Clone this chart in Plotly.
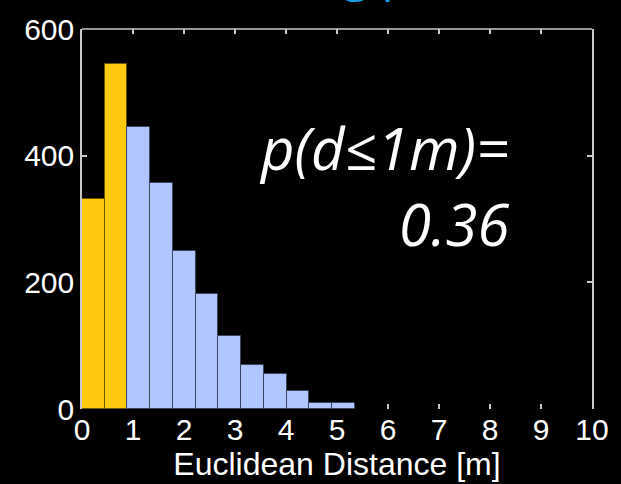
import plotly.graph_objects as go

# Histogram data
bin_left = [0.0, 0.446, 0.892, 1.338, 1.784, 2.230, 2.676, 3.122, 3.568, 4.014, 4.460, 4.906]
bin_width = 0.446
counts = [331, 545, 445, 357, 249, 182, 115, 69, 56, 28, 9, 9]
highlight = [True, True, False, False, False, False, False, False, False, False, False, False]

x_ticks = [0, 1, 2, 3, 4, 5, 6, 7, 8, 9, 10]
y_ticks = [0, 200, 400, 600]

YELLOW = "#FFC90E"
BLUE = "#B1C5FE"
FRAME = "#c8c8c8"

colors = [YELLOW if h else BLUE for h in highlight]
edges = ["#6b5400" if h else "#39435c" for h in highlight]

fig = go.Figure()
fig.add_trace(go.Bar(
    x=bin_left, y=counts, width=[bin_width] * len(counts), offset=0,
    marker=dict(color=colors, line=dict(color=edges, width=1)),
    showlegend=False, hoverinfo="skip",
))

tickfont = dict(family="Liberation Sans, Arial", size=30, color="white")

fig.update_layout(
    width=621, height=484,
    margin=dict(l=82, r=22, t=24, b=75),
    paper_bgcolor="black", plot_bgcolor="black",
    bargap=0,
    xaxis=dict(range=[0, 10], tickvals=x_ticks, ticktext=[str(v) for v in x_ticks],
               showline=False, mirror="ticks", ticks="inside", ticklen=5, tickwidth=1.5,
               tickcolor=FRAME, showgrid=False, zeroline=False, layer="below traces",
               tickfont=tickfont,
               title=dict(text="Euclidean Distance [m]", standoff=2,
                          font=dict(family="Liberation Sans, Arial", size=32, color="white"))),
    yaxis=dict(range=[0, 600], tickvals=y_ticks, ticktext=[str(v) for v in y_ticks],
               showline=True, mirror="ticks", linecolor=FRAME, linewidth=1.5,
               ticks="inside", ticklen=5, tickwidth=1.5, tickcolor=FRAME,
               showgrid=False, zeroline=False, layer="below traces", tickfont=tickfont),
    shapes=[dict(type="line", xref="paper", yref="paper", x0=0, x1=1, y0=1, y1=1,
                 line=dict(color=FRAME, width=1.5), layer="below")],
    annotations=[
        dict(text="<i>p(d≤1m)=</i>", xref="paper", yref="paper", x=0.841, y=0.688,
             xanchor="right", yanchor="middle", showarrow=False,
             font=dict(family="Open Sans", size=58, color="white")),
        dict(text="<i>0.36</i>", xref="paper", yref="paper", x=0.841, y=0.487,
             xanchor="right", yanchor="middle", showarrow=False,
             font=dict(family="Open Sans", size=58, color="white")),
        dict(text="g p", xref="paper", yref="paper", x=0.507, y=1.059,
             xanchor="left", yanchor="bottom", showarrow=False,
             font=dict(family="Open Sans", size=48, color="#14A0E6")),
    ],
)

fig.write_html("out.html")
